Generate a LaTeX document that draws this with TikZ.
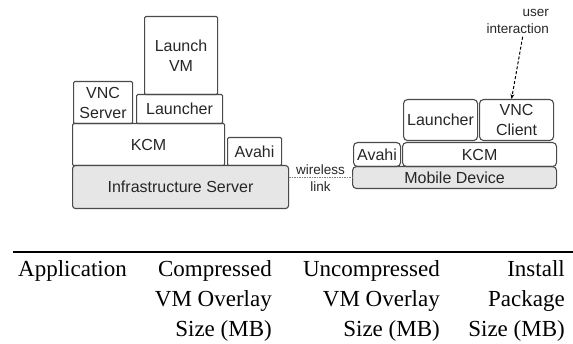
\documentclass[tikz,border=0pt]{standalone}
\usepackage{fontspec}
\setmainfont{Liberation Serif}
\setsansfont{Liberation Sans}
\usetikzlibrary{arrows.meta}
\definecolor{edge}{HTML}{4A4A4A}
\definecolor{txt}{HTML}{262626}
\definecolor{base}{HTML}{E6E6E6}
\tikzset{
  lbox/.style={draw=edge, line width=1.1pt, rounded corners=1.2pt, inner sep=0pt, anchor=north west,
    text=txt, align=center, font=\sffamily\fontsize{16}{20}\selectfont},
  rbox/.style={lbox, rounded corners=4pt},
  basebox/.style={fill=base},
  small/.style={text=txt, font=\sffamily\fontsize{13.5}{17}\selectfont, inner sep=0pt},
  tab/.style={font=\fontsize{23}{30}\selectfont, inner sep=0pt, text=black},
}
\begin{document}
\begin{tikzpicture}[x=1pt,y=-1pt]
\useasboundingbox (0,0) rectangle (573,344);
% server side
\node[lbox, minimum width=73pt, minimum height=78pt] (lvm) at (144,16) {Launch\\VM};
\node[lbox, minimum width=59pt, minimum height=42pt] (vncs) at (73,81) {VNC\\Server};
\node[lbox, minimum width=86pt, minimum height=29pt] (llau) at (136,94) {Launcher};
\node[lbox, minimum width=152pt, minimum height=42pt] (lkcm) at (72,123) {KCM};
\node[lbox, minimum width=54pt, minimum height=28pt] (lava) at (227,137) {Avahi};
\node[lbox, basebox, rounded corners=3pt, minimum width=216pt, minimum height=43pt] (infra) at (72,165) {Infrastructure Server};
% mobile side
\node[rbox, basebox, minimum width=204pt, minimum height=22pt] (mob) at (352,166) {Mobile Device};
\node[rbox, minimum width=47pt, minimum height=24pt] (rava) at (353,142) {Avahi};
\node[rbox, minimum width=154pt, minimum height=24pt] (rkcm) at (402,142) {KCM};
\node[rbox, minimum width=74pt, minimum height=41pt] (rlau) at (403,99) {Launcher};
\node[rbox, minimum width=74pt, minimum height=41pt] (vncc) at (479,99) {VNC\\Client};
% wireless link
\draw[edge!70, line width=1pt, dash pattern=on 1.5pt off 1pt] (infra.east |- 0,178) -- node[small, above=3pt] {wireless} node[small, below=3pt] {link} (mob.west |- 0,178);
% user interaction
\node[small, align=right, anchor=north east] (user) at (549,9) {user\\interaction};
\draw[black, line width=1pt, dash pattern=on 3pt off 2pt, -{Stealth[length=5pt,width=4pt]}] ([xshift=5pt,yshift=-3pt]user.south) -- ([xshift=-5pt]vncc.north);
% table
\draw[line width=2pt] (13,252) -- (573,252);
\node[tab, anchor=base west] (app) at (18,277) {Application};
\node[tab, anchor=base east] (c1) at (272,277) {Compressed};
\node[tab, anchor=base east] (c2) at (272,307) {VM Overlay};
\node[tab, anchor=base east] (c3) at (272,337) {Size (MB)};
\node[tab, anchor=base east] (u1) at (440,277) {Uncompressed};
\node[tab, anchor=base east] (u2) at (440,307) {VM Overlay};
\node[tab, anchor=base east] (u3) at (440,337) {Size (MB)};
\node[tab, anchor=base east] (i1) at (565,277) {Install};
\node[tab, anchor=base east] (i2) at (565,307) {Package};
\node[tab, anchor=base east] (i3) at (565,337) {Size (MB)};
\end{tikzpicture}
\end{document}
